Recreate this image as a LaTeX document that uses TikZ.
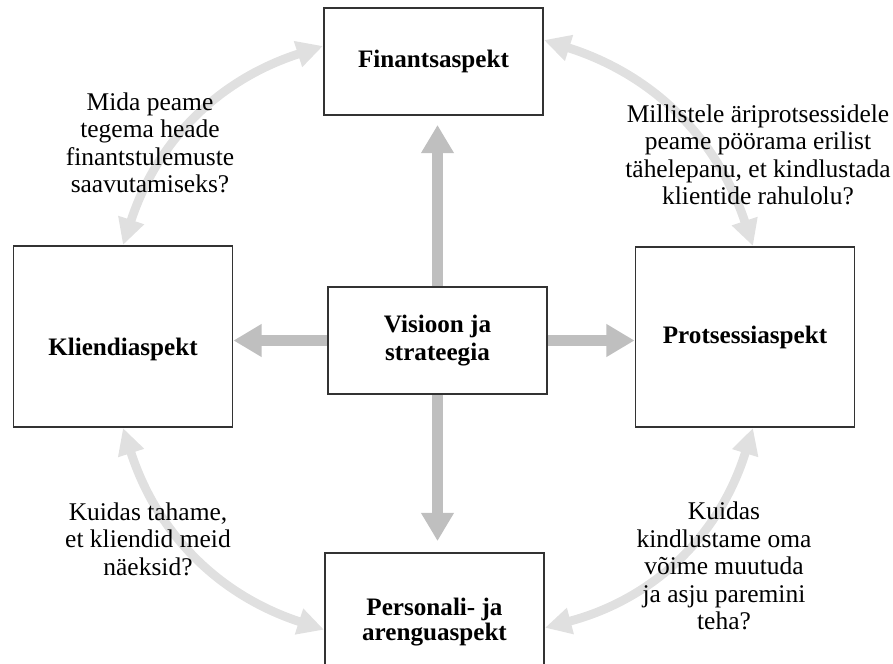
\documentclass[tikz,border=0pt]{standalone}
\usepackage{fontspec}
\setmainfont{Liberation Serif}
\usetikzlibrary{arrows.meta, positioning, calc, backgrounds}

\begin{document}
\begin{tikzpicture}[
    x=0.02cm, y=-0.02cm,
    aspect/.style={draw=black!80, line width=1.1pt, fill=white, minimum width=4.38cm, align=center,
                   font=\fontsize{14.3}{16.4}\selectfont\bfseries},
    question/.style={align=center, font=\fontsize{14.5}{15.6}\selectfont},
    mainarrow/.style={draw=black!25, line width=6.2pt, -{Triangle[length=16pt, width=17.6pt]}},
    cyclearrow/.style={draw=black!12, line width=5pt,
                       {Triangle[length=15pt, width=14.5pt]}-{Triangle[length=15pt, width=14.5pt]}}
]
\useasboundingbox (0,0) rectangle (893,663);

% the five boxes
\node[aspect, minimum height=2.14cm] (finants)   at (433.5, 61.5) {Finantsaspekt};
\node[aspect, minimum height=3.62cm, text height=25pt] (klient) at (123, 336.5) {Kliendiaspekt};
\node[aspect, minimum height=3.60cm] (protsess)  at (745, 337)    {Protsessiaspekt};
\node[aspect, minimum height=2.14cm] (visioon)   at (437.5, 340.5) {Visioon ja\\strateegia};
\node[aspect, minimum height=2.76cm, font=\fontsize{14.3}{11.5}\selectfont\bfseries]
                                      (personali) at (434.5, 622)   {Personali- ja\\arenguaspekt};

% questions
\node[question] (qfin)  at (150, 143) {Mida peame\\tegema heade\\finantstulemuste\\saavutamiseks?};
\node[question] (qprot) at (758, 155) {Millistele äriprotsessidele\\peame pöörama erilist\\tähelepanu, et kindlustada\\klientide rahulolu?};
\node[question] (qkli)  at (148, 539) {Kuidas tahame,\\et kliendid meid\\näeksid?};
\node[question] (qare)  at (724, 566) {Kuidas\\kindlustame oma\\võime muutuda\\ja asju paremini\\teha?};

% from the centre outwards
\draw[mainarrow, shorten >=0.18cm] (visioon.north) -- (visioon.north |- finants.south);
\draw[mainarrow, shorten >=0.22cm] (visioon.south) -- (visioon.south |- personali.north);
\draw[mainarrow] (visioon.west) -- (visioon.west -| klient.east);
\draw[mainarrow] (visioon.east) -- (visioon.east -| protsess.west);

% the cycle round the outside, behind the questions
\begin{scope}[on background layer]
\draw[cyclearrow] (klient.north)  to[bend left=27] (finants.172);
\draw[cyclearrow] (finants.11)    to[bend left=27] (protsess.85);
\draw[cyclearrow] (protsess.275)  to[bend left=29] (personali.357);
\draw[cyclearrow] (klient.south)  to[bend right=27] (personali.184);
\end{scope}
\end{tikzpicture}
\end{document}
